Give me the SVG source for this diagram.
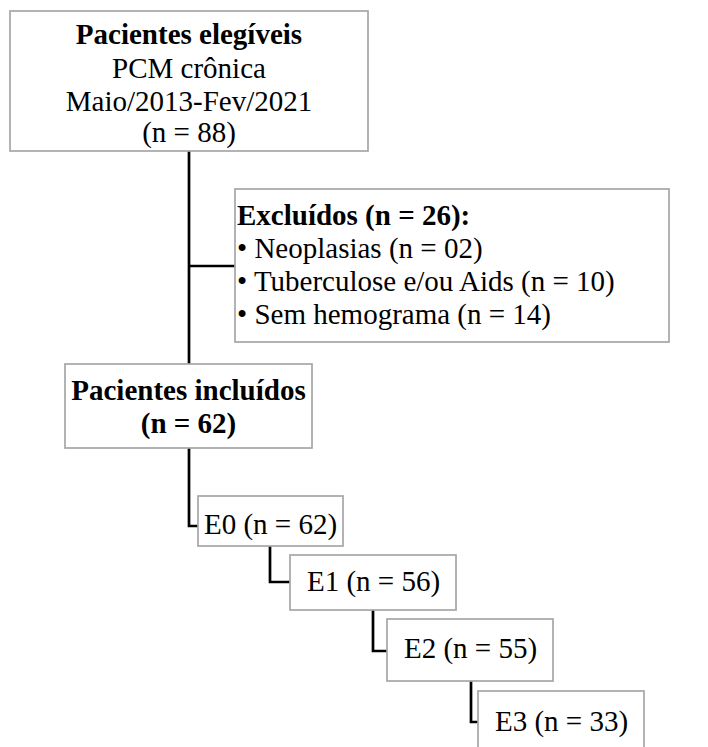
<svg xmlns="http://www.w3.org/2000/svg" width="708" height="747" viewBox="0 0 708 747">
<style>
.box{fill:#fff;stroke:#a6a6a6;stroke-width:1.7}
.t{font-family:"Liberation Serif","Times New Roman",serif;font-size:29px;fill:#000}
.b{font-weight:bold}
.c{fill:none;stroke:#000;stroke-width:2.7}
</style>
<rect width="708" height="747" fill="#fff"/>
<g id="connectors">
<path class="c" d="M189,151 V364"/>
<path class="c" d="M189,266 H235"/>
<path class="c" d="M189,448 V526 H198"/>
<path class="c" d="M270,546 V582 H290"/>
<path class="c" d="M373,610 V651 H387"/>
<path class="c" d="M471,681 V722 H478"/>
</g>
<g id="eligible">
<rect class="box" x="10" y="11" width="358" height="140"/>
<text class="t b" x="189" y="44" text-anchor="middle">Pacientes elegíveis</text>
<text class="t" x="189" y="78" text-anchor="middle">PCM crônica</text>
<text class="t" x="189" y="111" text-anchor="middle">Maio/2013-Fev/2021</text>
<text class="t" x="189" y="142" text-anchor="middle">(n = 88)</text>
</g>
<g id="excluded">
<rect class="box" x="235" y="189" width="434" height="153"/>
<text class="t b" x="237" y="225">Excluídos (n = 26):</text>
<text class="t" x="237" y="258">• Neoplasias (n = 02)</text>
<text class="t" x="237" y="291">• Tuberculose e/ou Aids (n = 10)</text>
<text class="t" x="237" y="324">• Sem hemograma (n = 14)</text>
</g>
<g id="included">
<rect class="box" x="65" y="364" width="247" height="84"/>
<text class="t b" x="188.5" y="400" text-anchor="middle">Pacientes incluídos</text>
<text class="t b" x="188.5" y="433" text-anchor="middle">(n = 62)</text>
</g>
<g id="e0">
<rect class="box" x="198" y="496" width="145" height="50"/>
<text class="t" x="204" y="534">E0 (n = 62)</text>
</g>
<g id="e1">
<rect class="box" x="290" y="555" width="166" height="55"/>
<text class="t" x="307" y="591">E1 (n = 56)</text>
</g>
<g id="e2">
<rect class="box" x="387" y="619" width="166" height="62"/>
<text class="t" x="404" y="658">E2 (n = 55)</text>
</g>
<g id="e3">
<rect class="box" x="478" y="691" width="166" height="70"/>
<text class="t" x="495" y="731">E3 (n = 33)</text>
</g>
</svg>
